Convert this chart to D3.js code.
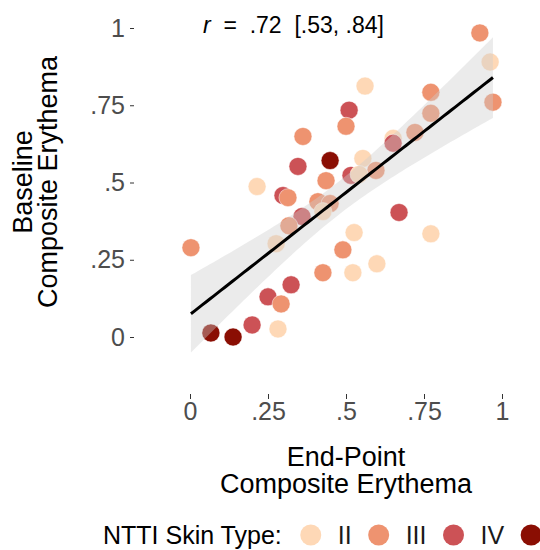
<!DOCTYPE html>
<html>
<head>
<meta charset="utf-8">
<script src="https://cdn.jsdelivr.net/npm/d3@7"></script>
<style>
  body { margin: 0; background: #fff; }
  svg { font-family: "Liberation Sans", Arial, sans-serif; }
</style>
</head>
<body>
<svg id="canvas" width="540" height="550"></svg>
<script>
// datos: x = end-point, y = baseline
const endPoint = [0.929, 0.962, 0.971, 0.561, 0.510, 0.500, 0.772, 0.772, 0.721, 0.651,
                  0.651, 0.554, 0.596, 0.516, 0.542, 0.449, 0.436, 0.362, 0.346, 0.215,
                  0.298, 0.314, 0.410, 0.449, 0.426, 0.359, 0.317, 0.276, 0.003, 0.526,
                  0.490, 0.670, 0.772, 0.599, 0.522, 0.426, 0.324, 0.250, 0.292, 0.067,
                  0.138, 0.199, 0.282];
const baseline = [0.984, 0.890, 0.760, 0.812, 0.734, 0.682, 0.792, 0.724, 0.662, 0.643,
                  0.627, 0.578, 0.539, 0.523, 0.526, 0.571, 0.506, 0.649, 0.552, 0.487,
                  0.458, 0.451, 0.438, 0.432, 0.406, 0.390, 0.360, 0.302, 0.289, 0.338,
                  0.282, 0.403, 0.334, 0.237, 0.208, 0.208, 0.169, 0.130, 0.107, 0.013,
                  0.000, 0.039, 0.026];
const skinType = ["III", "II", "III", "II", "IV", "III", "III", "III", "III", "II",
                  "IV", "II", "III", "IV", "II", "V", "III", "III", "IV", "II",
                  "IV", "III", "III", "III", "II", "IV", "III", "II", "III", "II",
                  "III", "IV", "II", "II", "II", "III", "IV", "IV", "III", "V",
                  "V", "IV", "II"];

const typeLevels = ["II", "III", "IV", "V"];
const typeColors = ["#FED8B6", "#EE9370", "#CC5256", "#8A0E03"];

const xTicks = [0, 0.25, 0.5, 0.75, 1];
const xTickLabels = ["0", ".25", ".5", ".75", "1"];
const yTicks = [0, 0.25, 0.5, 0.75, 1];
const yTickLabels = ["0", ".25", ".5", ".75", "1"];

const rLabel = ["r", "  =  .72  [.53, .84]"];

let svg = d3.select('#canvas');

let x = d3.scaleLinear().domain([0, 1]).range([190, 502]);
let y = d3.scaleLinear().domain([0, 1]).range([337, 28]);
let color = d3.scaleOrdinal().domain(typeLevels).range(typeColors);

let puntos = endPoint.map((d, i) => ({ x: d, y: baseline[i], tipo: skinType[i] }));

// regresion lineal + IC 95% (como geom_smooth method = "lm")
let n = puntos.length;
let xm = d3.mean(puntos, d => d.x);
let ym = d3.mean(puntos, d => d.y);
let sxx = d3.sum(puntos, d => (d.x - xm) ** 2);
let sxy = d3.sum(puntos, d => (d.x - xm) * (d.y - ym));
let b = sxy / sxx;
let a = ym - b * xm;
let sse = d3.sum(puntos, d => (d.y - (a + b * d.x)) ** 2);
let s = Math.sqrt(sse / (n - 2));
let tq = 2.02; // t(0.975, 41)
let xmin = d3.min(endPoint), xmax = d3.max(endPoint);
let fit = d3.range(0, 81).map(k => {
    let xx = xmin + (xmax - xmin) * k / 80;
    let yh = a + b * xx;
    let se = s * Math.sqrt(1 / n + (xx - xm) ** 2 / sxx);
    return { x: xx, y: yh, lo: yh - tq * se, hi: yh + tq * se };
});

// puntos
svg.append('g')
    .selectAll('circle')
    .data(puntos)
    .enter()
    .append('circle')
    .attr('cx', d => x(d.x))
    .attr('cy', d => y(d.y))
    .attr('r', 9)
    .attr('fill', d => color(d.tipo))
    .attr('stroke', '#fff')
    .attr('stroke-width', 0.5);

// banda de confianza
svg.append('path')
    .datum(fit)
    .attr('d', d3.area().x(d => x(d.x)).y0(d => y(d.lo)).y1(d => y(d.hi)))
    .attr('fill', '#CCCCCC')
    .attr('fill-opacity', 0.4);

svg.append('path')
    .datum(fit)
    .attr('d', d3.line().x(d => x(d.x)).y(d => y(d.y)))
    .attr('fill', 'none')
    .attr('stroke', '#000')
    .attr('stroke-width', 3);

// ejes
let xAxis = svg.append('g')
    .attr('transform', 'translate(0,394)')
    .call(d3.axisBottom(x).tickValues(xTicks).tickFormat((d, i) => xTickLabels[i]).tickSize(5).tickPadding(3));
let yAxis = svg.append('g')
    .attr('transform', 'translate(134,0)')
    .call(d3.axisLeft(y).tickValues(yTicks).tickFormat((d, i) => yTickLabels[i]).tickSize(4).tickPadding(5));

[xAxis, yAxis].forEach(ax => {
    ax.select('.domain').remove();
    ax.selectAll('line').attr('stroke', '#333333');
    ax.selectAll('text')
        .attr('fill', '#4D4D4D')
        .style('font-size', '25px')
        .style('font-family', '"Liberation Sans", Arial, sans-serif');
});

// titulos de ejes
svg.append('text').attr('x', 346).attr('y', 466).attr('text-anchor', 'middle')
    .style('font-size', '27px').text('End-Point');
svg.append('text').attr('x', 346).attr('y', 493).attr('text-anchor', 'middle')
    .style('font-size', '27px').text('Composite Erythema');

svg.append('text').attr('transform', 'translate(32,182) rotate(-90)').attr('text-anchor', 'middle')
    .style('font-size', '27px').text('Baseline');
svg.append('text').attr('transform', 'translate(57,182) rotate(-90)').attr('text-anchor', 'middle')
    .style('font-size', '27px').text('Composite Erythema');

// anotacion r
let ann = svg.append('text').attr('x', 203).attr('y', 33)
    .style('font-size', '23px').style('white-space', 'pre');
ann.append('tspan').style('font-style', 'italic').text(rLabel[0]);
ann.append('tspan').text(rLabel[1]);

// leyenda
let leg = svg.append('g').attr('transform', 'translate(0,535)');
let legTitle = leg.append('text').attr('x', 103).attr('y', 9)
    .style('font-size', '25px').attr('fill', '#000').text('NTTI Skin Type:');
let cx = 103 + legTitle.node().getComputedTextLength() + 29;
typeLevels.forEach((t, i) => {
    leg.append('circle').attr('cx', cx).attr('cy', 0).attr('r', 10.5).attr('fill', color(t));
    let lab = leg.append('text').attr('x', cx + 27).attr('y', 9)
        .style('font-size', '25px').attr('fill', '#1A1A1A').text(t);
    cx = cx + 27 + lab.node().getComputedTextLength() + 27;
});
</script>
</body>
</html>
